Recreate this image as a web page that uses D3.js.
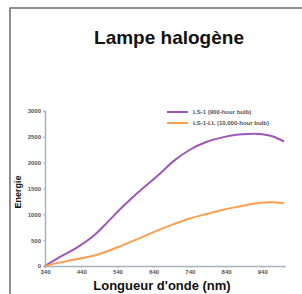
<html>
<head>
    <script src="https://cdn.jsdelivr.net/npm/d3@7"></script>
    <style>
        body { margin: 0; background: #fff; }
        text { font-family: "Liberation Sans", Arial, sans-serif; }
    </style>
</head>
<body>
    <svg id="container" width="302" height="294"></svg>
</body>
<script>
    // wavelengths (nm) and energy readings for both bulbs
    let wavelengths = [340, 380, 440, 475, 510, 555, 600, 650, 695, 740, 785, 830, 875, 920, 960, 1000]
    let ls1 = [0, 170, 410, 590, 830, 1150, 1440, 1740, 2030, 2250, 2400, 2490, 2545, 2560, 2525, 2410]
    let ls1ll = [0, 65, 150, 200, 280, 405, 535, 685, 810, 920, 1005, 1085, 1150, 1210, 1235, 1215]
    let xTicks = [340, 440, 540, 640, 740, 840, 940]
    let yTicks = [0, 500, 1000, 1500, 2000, 2500, 3000]
    let seriesNames = ["LS-1 (900-hour bulb)", "LS-1-LL (10,000-hour bulb)"]
    let seriesColors = ["#a056b8", "#ff9d4f"]

    let svg = d3.select("#container")

    // outer frame
    svg.append("rect")
        .attr("x", 10).attr("y", 8)
        .attr("width", 300).attr("height", 300)
        .attr("fill", "none")
        .attr("stroke", "#6b6b6b")
        .attr("stroke-width", 1.5)

    svg.append("text")
        .attr("x", 169).attr("y", 44)
        .attr("text-anchor", "middle")
        .attr("font-size", 19)
        .attr("font-weight", "bold")
        .attr("fill", "#111")
        .text("Lampe halogène")

    let x = d3.scaleLinear().domain([340, 1000]).range([45, 284])
    let y = d3.scaleLinear().domain([0, 3000]).range([266, 111])

    let xAxis = svg.append("g")
        .attr("transform", "translate(0,266)")
        .call(d3.axisBottom(x).tickValues(xTicks).tickFormat(d3.format("d")).tickSize(2).tickPadding(2))
    let yAxis = svg.append("g")
        .attr("transform", "translate(45,0)")
        .call(d3.axisLeft(y).tickValues(yTicks).tickFormat(d3.format("d")).tickSize(2).tickPadding(2))

    for (let ax of [xAxis, yAxis]) {
        ax.select(".domain").attr("stroke", "#a8b2bd").attr("stroke-width", 1.5)
        ax.selectAll(".tick line").attr("stroke", "#a8b2bd")
        ax.selectAll("text")
            .attr("font-size", 6)
            .attr("font-weight", "bold")
            .attr("fill", "#555")
    }

    let series = [ls1, ls1ll]
    let line = d3.line()
        .x((d, i) => x(wavelengths[i]))
        .y(d => y(d))
        .curve(d3.curveMonotoneX)

    svg.selectAll("path.serie")
        .data(series)
        .enter().append("path")
        .attr("class", "serie")
        .attr("d", d => line(d))
        .attr("fill", "none")
        .attr("stroke", (d, i) => seriesColors[i])
        .attr("stroke-width", 2)

    // legend
    let legend = svg.selectAll("g.leg")
        .data(seriesNames)
        .enter().append("g")
        .attr("class", "leg")
        .attr("transform", (d, i) => `translate(167,${112 + i * 11})`)
    legend.append("line")
        .attr("x1", 0).attr("x2", 21)
        .attr("stroke", (d, i) => seriesColors[i])
        .attr("stroke-width", 2)
    legend.append("text")
        .attr("x", 26).attr("y", 2)
        .attr("font-size", 6)
        .attr("font-weight", "bold")
        .attr("fill", "#555")
        .text(d => d)

    svg.append("text")
        .attr("x", 162).attr("y", 290)
        .attr("text-anchor", "middle")
        .attr("font-size", 13)
        .attr("font-weight", "bold")
        .attr("fill", "#111")
        .text("Longueur d'onde (nm)")

    svg.append("text")
        .attr("transform", "translate(21,192) rotate(-90)")
        .attr("text-anchor", "middle")
        .attr("font-size", 9)
        .attr("font-weight", "bold")
        .attr("fill", "#111")
        .text("Energie")
</script>
</html>
